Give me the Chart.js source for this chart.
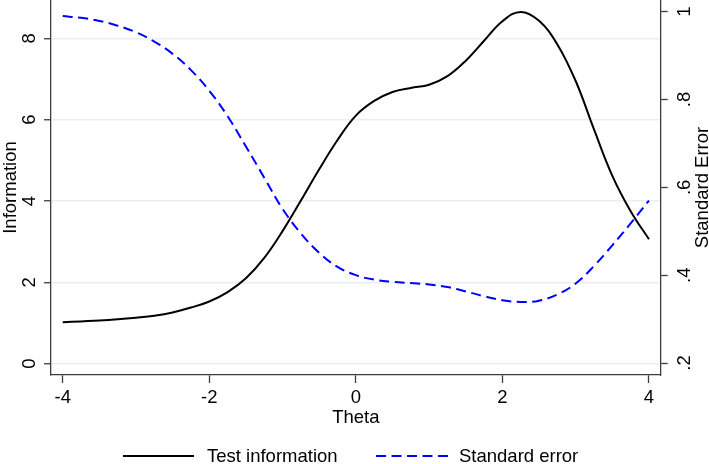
<!DOCTYPE html>
<html>
<head>
<meta charset="utf-8">
<script src="https://cdn.jsdelivr.net/npm/chart.js@4/dist/chart.umd.min.js"></script>
<style>
  html, body { margin: 0; padding: 0; background: #ffffff; }
  #wrap { width: 709px; height: 464px; position: relative; }
</style>
</head>
<body>
<div id="wrap"><canvas id="c" width="709" height="464"></canvas></div>
<script>
// ---- data ----
const theta = [-4.00, -3.75, -3.50, -3.25, -3.00, -2.75, -2.50, -2.25, -2.00, -1.75, -1.50, -1.25,
               -1.00, -0.75, -0.50, -0.25, 0.00, 0.25, 0.50, 0.75, 1.00, 1.25, 1.50, 1.75,
               2.00, 2.25, 2.50, 2.75, 3.00, 3.25, 3.50, 3.75, 4.00];
const testInformation = [1.02, 1.04, 1.06, 1.09, 1.13, 1.18, 1.26, 1.38, 1.53, 1.76, 2.10, 2.60,
                         3.26, 4.01, 4.78, 5.50, 6.10, 6.46, 6.68, 6.78, 6.86, 7.07, 7.45, 7.94,
                         8.42, 8.65, 8.43, 7.85, 6.95, 5.76, 4.62, 3.75, 3.06];
const standardError = [0.990, 0.986, 0.979, 0.968, 0.953, 0.932, 0.904, 0.867, 0.820, 0.762, 0.693, 0.622,
                       0.551, 0.495, 0.451, 0.419, 0.400, 0.390, 0.385, 0.382, 0.379, 0.373, 0.363, 0.352,
                       0.343, 0.339, 0.342, 0.356, 0.381, 0.421, 0.468, 0.518, 0.570];
const seriesNames = ['Test information', 'Standard error'];
const xTicks = [-4, -2, 0, 2, 4];
const xTickLabels = ['-4', '-2', '0', '2', '4'];
const infoTicks = [0, 2, 4, 6, 8];
const infoTickLabels = ['0', '2', '4', '6', '8'];
const seTicks = [0.2, 0.4, 0.6, 0.8, 1.0];
const seTickLabels = ['.2', '.4', '.6', '.8', '1'];
const xTitle = 'Theta';
const leftTitle = 'Information';
const rightTitle = 'Standard Error';

// ---- styling ----
const FONT = "18.5px 'Liberation Sans', Arial, Helvetica, sans-serif";
const AXIS = '#3c3c3c';
const GRID = '#e8f0f3';

const textPlugin = {
  id: 'stataText',
  afterDraw(chart) {
    const ctx = chart.ctx;
    const xs = chart.scales.x, yl = chart.scales.y, yr = chart.scales.y2;
    ctx.save();
    ctx.fillStyle = '#000';
    ctx.font = FONT;
    ctx.textAlign = 'center';
    ctx.textBaseline = 'alphabetic';
    xTicks.forEach((v, i) => ctx.fillText(xTickLabels[i], xs.getPixelForValue(v), 403));
    ctx.fillText(xTitle, (chart.chartArea.left + chart.chartArea.right) / 2, 423);
    const vtext = (txt, x, y) => {
      ctx.save();
      ctx.translate(x, y);
      ctx.rotate(-Math.PI / 2);
      ctx.textAlign = 'center';
      ctx.textBaseline = 'alphabetic';
      ctx.fillText(txt, 0, 0);
      ctx.restore();
    };
    infoTicks.forEach((v, i) => vtext(infoTickLabels[i], 35, yl.getPixelForValue(v)));
    seTicks.forEach((v, i) => vtext(seTickLabels[i], 690, yr.getPixelForValue(v)));
    const midY = (chart.chartArea.top + chart.chartArea.bottom) / 2;
    vtext(leftTitle, 16, midY);
    vtext(rightTitle, 708, midY);
    // legend
    const ly = 456;
    ctx.lineWidth = 2;
    ctx.strokeStyle = chart.data.datasets[0].borderColor;
    ctx.setLineDash([]);
    ctx.beginPath(); ctx.moveTo(123, ly); ctx.lineTo(194, ly); ctx.stroke();
    ctx.strokeStyle = chart.data.datasets[1].borderColor;
    ctx.setLineDash(chart.data.datasets[1].borderDash);
    ctx.beginPath(); ctx.moveTo(376, ly); ctx.lineTo(448, ly); ctx.stroke();
    ctx.setLineDash([]);
    ctx.textAlign = 'left';
    ctx.textBaseline = 'middle';
    ctx.fillText(seriesNames[0], 207, ly + 1);
    ctx.fillText(seriesNames[1], 459, ly + 1);
    ctx.restore();
  }
};

new Chart(document.getElementById('c'), {
  type: 'line',
  data: {
    datasets: [
      {
        label: seriesNames[0],
        data: theta.map((t, i) => ({ x: t, y: testInformation[i] })),
        yAxisID: 'y',
        borderColor: '#000000',
        borderWidth: 2,
        pointRadius: 0,
        fill: false,
        tension: 0.4
      },
      {
        label: seriesNames[1],
        data: theta.map((t, i) => ({ x: t, y: standardError[i] })),
        yAxisID: 'y2',
        borderColor: '#0000ff',
        borderWidth: 2,
        borderDash: [10, 5.5],
        pointRadius: 0,
        fill: false,
        tension: 0.4
      }
    ]
  },
  options: {
    responsive: false,
    animation: false,
    devicePixelRatio: 1,
    layout: { padding: 0, autoPadding: false },
    plugins: { legend: { display: false }, tooltip: { enabled: false } },
    scales: {
      x: {
        type: 'linear',
        position: 'bottom',
        min: -4.16, max: 4.16,
        afterBuildTicks: s => { s.ticks = xTicks.map(v => ({ value: v })); },
        afterFit: s => { s.height = 89; },
        ticks: { display: false },
        grid: { drawOnChartArea: false, drawTicks: true, tickLength: 8, tickColor: AXIS, tickWidth: 1.3 },
        border: { display: true, color: AXIS, width: 1.3 }
      },
      y: {
        type: 'linear',
        position: 'left',
        min: -0.278, max: 8.942,
        afterBuildTicks: s => { s.ticks = infoTicks.map(v => ({ value: v })); },
        afterFit: s => { s.width = 51; },
        ticks: { display: false },
        grid: { color: GRID, lineWidth: 1.5, drawTicks: true, tickLength: 7, tickColor: AXIS, tickWidth: 1.3 },
        border: { display: true, color: AXIS, width: 1.3 }
      },
      y2: {
        type: 'linear',
        position: 'right',
        min: 0.1727, max: 1.0266,
        afterBuildTicks: s => { s.ticks = seTicks.map(v => ({ value: v })); },
        afterFit: s => { s.width = 48.3; },
        ticks: { display: false },
        grid: { drawOnChartArea: false, drawTicks: true, tickLength: 7, tickColor: AXIS, tickWidth: 1.3 },
        border: { display: true, color: AXIS, width: 1.3 }
      }
    }
  },
  plugins: [textPlugin]
});
</script>
</body>
</html>
